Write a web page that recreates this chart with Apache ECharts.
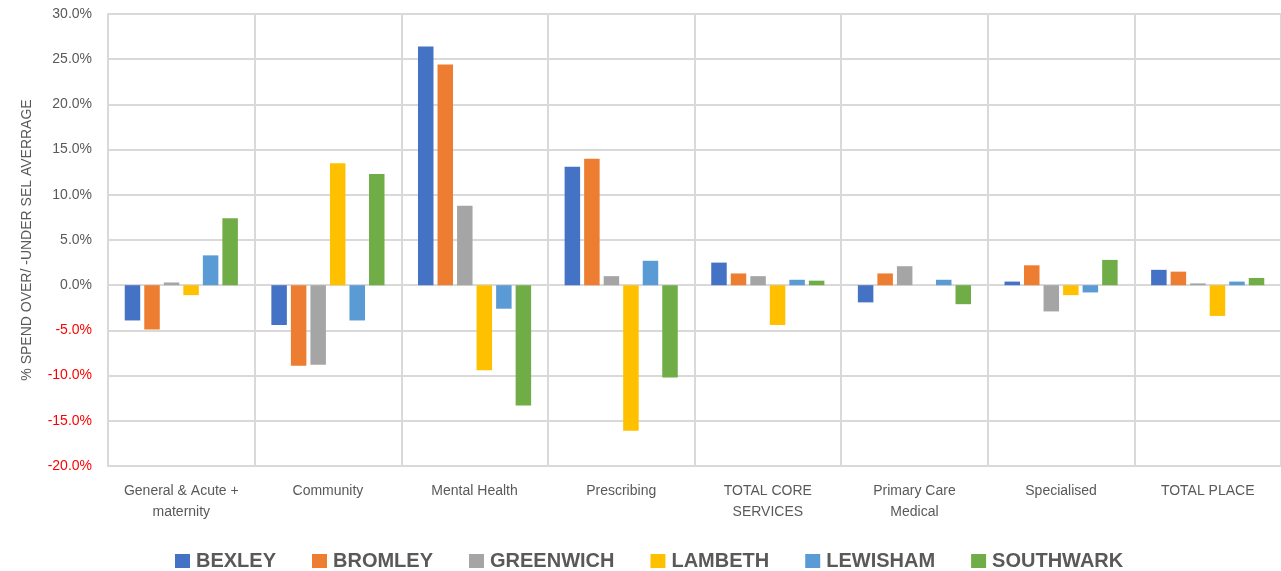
<!DOCTYPE html>
<html>
<head>
<meta charset="utf-8">
<script src="https://cdn.jsdelivr.net/npm/echarts@6/dist/echarts.min.js"></script>
<style>
  html, body { margin: 0; padding: 0; background: #ffffff; }
  #chart { width: 1281px; height: 571px; }
</style>
</head>
<body>
<div id="chart"></div>
<script>
// Spend over / under the SEL average, by service area and borough (%)
const categories = [
  'General & Acute +\nmaternity', 'Community', 'Mental Health', 'Prescribing',
  'TOTAL CORE\nSERVICES', 'Primary Care\nMedical', 'Specialised', 'TOTAL PLACE'
];
const boroughs = ['BEXLEY', 'BROMLEY', 'GREENWICH', 'LAMBETH', 'LEWISHAM', 'SOUTHWARK'];

const bexley    = [-3.9, -4.4, 26.4, 13.1,  2.5, -1.9,  0.4,  1.7];
const bromley   = [-4.9, -8.9, 24.4, 14.0,  1.3,  1.3,  2.2,  1.5];
const greenwich = [ 0.3, -8.8,  8.8,  1.0,  1.0,  2.1, -2.9,  0.2];
const lambeth   = [-1.1, 13.5, -9.4, -16.1, -4.4, 0.0, -1.1, -3.4];
const lewisham  = [ 3.3, -3.9, -2.6,  2.7,  0.6,  0.6, -0.8,  0.4];
const southwark = [ 7.4, 12.3, -13.3, -10.2, 0.5, -2.1,  2.8,  0.8];

const seriesValues = [bexley, bromley, greenwich, lambeth, lewisham, southwark];
const colors = ['#4472C4', '#ED7D31', '#A5A5A5', '#FFC000', '#5B9BD5', '#70AD47'];

const yTicks = { min: -20, max: 30, step: 5 };

const font = 'Liberation Sans, Arial, sans-serif';
const textGrey = '#595959';
const gridGrey = '#d9d9d9';

const chart = echarts.init(document.getElementById('chart'), null, { renderer: 'canvas' });

chart.setOption({
  animation: false,
  backgroundColor: '#ffffff',
  color: colors,
  grid: { left: 108, right: -2, top: 14, bottom: 105, containLabel: false },
  legend: {
    data: boroughs,
    left: 170,
    top: 546,
    icon: 'rect',
    itemWidth: 15,
    itemHeight: 14,
    itemGap: 36,
    textStyle: { fontFamily: font, fontSize: 20, fontWeight: 'bold', color: textGrey, padding: [0, 0, 0, 1] }
  },
  xAxis: {
    type: 'category',
    data: categories,
    axisLine: { onZero: false, show: true, lineStyle: { color: gridGrey, width: 2 } },
    axisTick: { show: false },
    axisLabel: {
      interval: 0,
      margin: 15,
      fontFamily: font,
      fontSize: 14,
      lineHeight: 21,
      color: textGrey
    },
    splitLine: { show: true, interval: 0, lineStyle: { color: gridGrey, width: 2 } }
  },
  yAxis: {
    type: 'value',
    min: yTicks.min,
    max: yTicks.max,
    interval: yTicks.step,
    name: '% SPEND OVER/ -UNDER SEL AVERRAGE',
    nameLocation: 'middle',
    nameGap: 74,
    nameTextStyle: { fontFamily: font, fontSize: 14, color: textGrey },
    axisLine: { show: true, lineStyle: { color: gridGrey, width: 2 } },
    axisTick: { show: false },
    axisLabel: {
      margin: 16,
      fontFamily: font,
      fontSize: 14,
      formatter: v => v.toFixed(1) + '%',
      color: v => (v < 0 ? '#FF0000' : textGrey)
    },
    splitLine: { show: true, lineStyle: { color: gridGrey, width: 2 } }
  },
  series: boroughs.map((name, i) => ({
    name: name,
    type: 'bar',
    data: seriesValues[i],
    barWidth: 15.5,
    barGap: '26%',
    itemStyle: { color: colors[i] }
  }))
});
</script>
</body>
</html>
